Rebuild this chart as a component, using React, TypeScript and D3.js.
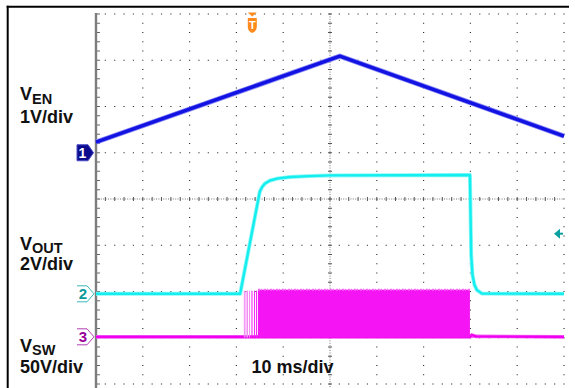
import React from "react";
import * as d3 from "d3";

// ---- data (time in ms from left edge of screen, volts) ----
const VEN_TIME_MS = [0, 52.1, 100];
const VEN_VOLTS = [0.23, 2.09, 0.36];

const VOUT_TIME_MS = [0, 30.8, 35.0, 35.5, 36.1, 37.2, 38.9, 41.5, 45.7, 50.0, 79.9, 80.17, 80.45, 80.88, 81.41, 82.48, 100];
const VOUT_VOLTS = [0, 0, 4.42, 4.62, 4.77, 4.9, 4.99, 5.05, 5.09, 5.12, 5.14, 1.68, 0.81, 0.38, 0.16, 0.01, 0];

const VSW_TIME_MS = [0, 79.9, 80.3, 81.2, 100];
const VSW_VOLTS = [0, 0, 2, 0.5, 0];
const VSW_PULSE_MS = [31.7, 32.05, 32.37, 32.8, 33.33, 33.87, 34.3];
const VSW_BURST_MS = [34.6, 79.9];
const VSW_BURST_VOLTS = [-0.8, 51];

const TRIGGER_MS = 33.4;
const TRIGGER_LEVEL_V = 2.6;

const CH_NAMES = ["1", "2", "3"];
const CH_VOLTS_PER_DIV = [1, 2, 50];
const CH_OFFSET_DIV = [1.0, -2.05, -2.98];
const TIMEBASE_LABEL = "10 ms/div";

const W = 575;
const H = 388;
const X0 = 96;
const X1 = 564;
const Y0 = 14;
const Y1 = 384;

const x = d3.scaleLinear().domain([0, 100]).range([X0, X1]);
const yDiv = d3.scaleLinear().domain([-4, 4]).range([Y1, Y0]);
const chY = (ch: number) => (v: number) => yDiv(CH_OFFSET_DIV[ch] + v / CH_VOLTS_PER_DIV[ch]);
const y1 = chY(0);
const y2 = chY(1);
const y3 = chY(2);

const FONT = "'Liberation Sans', Arial, Helvetica, sans-serif";

function tracePath(times: number[], volts: number[], y: (v: number) => number) {
  const line = d3
    .line<number>()
    .x((_, i) => x(times[i]))
    .y((v) => y(v));
  return line(volts) || "";
}

function gridDots() {
  const dx = (X1 - X0) / 50;
  const dy = (Y1 - Y0) / 40;
  let p = "";
  const dot = (px: number, py: number) => {
    p += `M${(px - 0.6).toFixed(2)},${(py - 0.6).toFixed(2)}h1.2v1.2h-1.2z`;
  };
  for (let i = 1; i <= 10; i++) {
    if (i === 5) continue;
    const gx = X0 + (i * (X1 - X0)) / 10;
    for (let k = 0; k <= 40; k++) dot(gx, Y0 + k * dy);
  }
  for (let j = 0; j <= 8; j++) {
    if (j === 4) continue;
    const gy = Y0 + (j * (Y1 - Y0)) / 8;
    for (let k = 1; k <= 50; k++) dot(X0 + k * dx, gy);
  }
  return p;
}

function centerTicks() {
  const dx = (X1 - X0) / 50;
  const dy = (Y1 - Y0) / 40;
  const cx = (X0 + X1) / 2;
  const cy = (Y0 + Y1) / 2;
  let p = "";
  for (let k = 1; k < 50; k++) {
    const px = X0 + k * dx;
    p += `M${px.toFixed(2)},${cy - 2}v4`;
  }
  for (let k = 0; k <= 40; k++) {
    const py = Y0 + k * dy;
    p += `M${cx - 2},${py.toFixed(2)}h4`;
  }
  return p;
}

function axisTicks() {
  const dy = (Y1 - Y0) / 40;
  let p = "";
  for (let k = 0; k <= 41; k++) {
    const py = Y0 + k * dy;
    p += `M${X0 + 1},${py.toFixed(2)}h3`;
  }
  return p;
}

function OpenMarker({ y, color, textColor, label }: { y: number; color: string; textColor: string; label: string }) {
  return (
    <g>
      <path d={`M77,${y - 8}H87L94,${y}L87,${y + 8}H77`} fill="none" stroke={color} strokeWidth={1} />
      <text x={83} y={y + 5.5} textAnchor="middle" fontFamily={FONT} fontWeight="bold" fontSize={15} fill={textColor}>
        {label}
      </text>
    </g>
  );
}

export default function App() {
  const cx = (X0 + X1) / 2;
  const cy = (Y0 + Y1) / 2;
  const g1 = y1(0);
  const g2 = y2(0);
  const g3 = y3(0);
  const tx = x(TRIGGER_MS);
  const ty = y2(TRIGGER_LEVEL_V);
  const bx0 = x(VSW_BURST_MS[0]);
  const bx1 = x(VSW_BURST_MS[1]);
  const by0 = y3(VSW_BURST_VOLTS[1]);
  const by1 = y3(VSW_BURST_VOLTS[0]);

  return (
    <div style={{ position: "fixed", left: 0, top: 0 }}>
      <svg width={W} height={H} style={{ display: "block", background: "#fff" }}>
        <rect x={0} y={0} width={W} height={H} fill="#fff" />
        {/* frame */}
        <line x1={7.7} y1={5.8} x2={7.7} y2={H} stroke="#000" strokeWidth={2} />
        <line x1={6.7} y1={6.8} x2={569} y2={6.8} stroke="#000" strokeWidth={2} />

        {/* grid */}
        <path d={gridDots()} fill="#333" />
        <line x1={X0} y1={cy} x2={X1} y2={cy} stroke="#777" strokeWidth={1} strokeDasharray="1,1.4" />
        <line x1={cx} y1={Y0} x2={cx} y2={H} stroke="#777" strokeWidth={1} strokeDasharray="1,1.4" />
        <path d={centerTicks()} stroke="#555" strokeWidth={1} fill="none" />
        <line x1={X0} y1={Y0 - 1} x2={X0} y2={H} stroke="#7d7d7d" strokeWidth={2.4} />
        <path d={axisTicks()} stroke="#666" strokeWidth={1} fill="none" />

        {/* CH1 VEN */}
        <path d={tracePath(VEN_TIME_MS, VEN_VOLTS, y1)} fill="none" stroke="#8a8af5" strokeWidth={5.2} strokeLinejoin="round" />
        <path d={tracePath(VEN_TIME_MS, VEN_VOLTS, y1)} fill="none" stroke="#1212e2" strokeWidth={3.4} strokeLinejoin="round" />

        {/* CH3 VSW */}
        <path d={tracePath(VSW_TIME_MS, VSW_VOLTS, y3)} fill="none" stroke="#f35ff3" strokeWidth={3.6} />
        <path d={tracePath(VSW_TIME_MS, VSW_VOLTS, y3)} fill="none" stroke="#f000f0" strokeWidth={2.2} />
        {VSW_PULSE_MS.map((t, i) => (
          <line key={i} x1={x(t)} x2={x(t)} y1={by0 + 1} y2={by1} stroke={i < 4 ? "#f390f3" : "#f22cf2"} strokeWidth={1.1} />
        ))}
        <rect x={bx0} y={by0} width={bx1 - bx0} height={by1 - by0} fill="#f414f4" />
        <path
          d={`M${bx0},${by0}H${bx1}`}
          stroke="#f666f6"
          strokeWidth={2}
          strokeDasharray="2,1,1,2"
          fill="none"
        />

        {/* CH2 VOUT */}
        <path d={tracePath(VOUT_TIME_MS, VOUT_VOLTS, y2)} fill="none" stroke="#8ff8f8" strokeWidth={4} strokeLinejoin="round" />
        <path d={tracePath(VOUT_TIME_MS, VOUT_VOLTS, y2)} fill="none" stroke="#14eeee" strokeWidth={2.4} strokeLinejoin="round" />

        {/* channel markers */}
        <path d={`M77,${g1 - 8}H88L93.5,${g1}L88,${g1 + 8}H77Z`} fill="#0b0b8e" stroke="#4a4ac8" strokeWidth={1} />
        <text x={82.5} y={g1 + 5} textAnchor="middle" fontFamily={FONT} fontWeight="bold" fontSize={14} fill="#fff">
          {CH_NAMES[0]}
        </text>
        <OpenMarker y={g2} color="#3ab8b8" textColor="#0a9a9a" label={CH_NAMES[1]} />
        <OpenMarker y={g3} color="#b040b0" textColor="#990099" label={CH_NAMES[2]} />

        {/* trigger position marker */}
        <path d={`M${tx - 4.5},12.5H${tx + 4.5}L${tx},16.5Z`} fill="#ff8a1c" />
        <path
          d={`M${tx - 4.5},18H${tx + 4.5}V27Q${tx + 4.5},31 ${tx},33Q${tx - 4.5},31 ${tx - 4.5},27Z`}
          fill="#ff8a1c"
        />
        <text x={tx} y={29} textAnchor="middle" fontFamily={FONT} fontWeight="bold" fontSize={11} fill="#fff">
          T
        </text>

        {/* trigger level marker */}
        <path d={`M554,${ty}L560,${ty - 5}L560,${ty + 5}Z`} fill="#0aa0a0" />
        <rect x={559} y={ty - 1} width={4} height={2} fill="#0aa0a0" />

        {/* labels */}
        <g fontFamily={FONT} fontWeight="bold" fill="#111">
          <text x={20} y={100} fontSize={18}>
            V<tspan fontSize={14.5} dy={3.5}>EN</tspan>
          </text>
          <text x={20} y={123} fontSize={18}>1V/div</text>
          <text x={20} y={250} fontSize={18}>
            V<tspan fontSize={14.5} dy={3}>OUT</tspan>
          </text>
          <text x={20} y={269.5} fontSize={18}>2V/div</text>
          <text x={20} y={351.5} fontSize={18}>
            V<tspan fontSize={14.5} dy={3}>SW</tspan>
          </text>
          <text x={20} y={373} fontSize={18}>50V/div</text>
          <text x={251.5} y={373} fontSize={18}>{TIMEBASE_LABEL}</text>
        </g>
      </svg>
    </div>
  );
}
